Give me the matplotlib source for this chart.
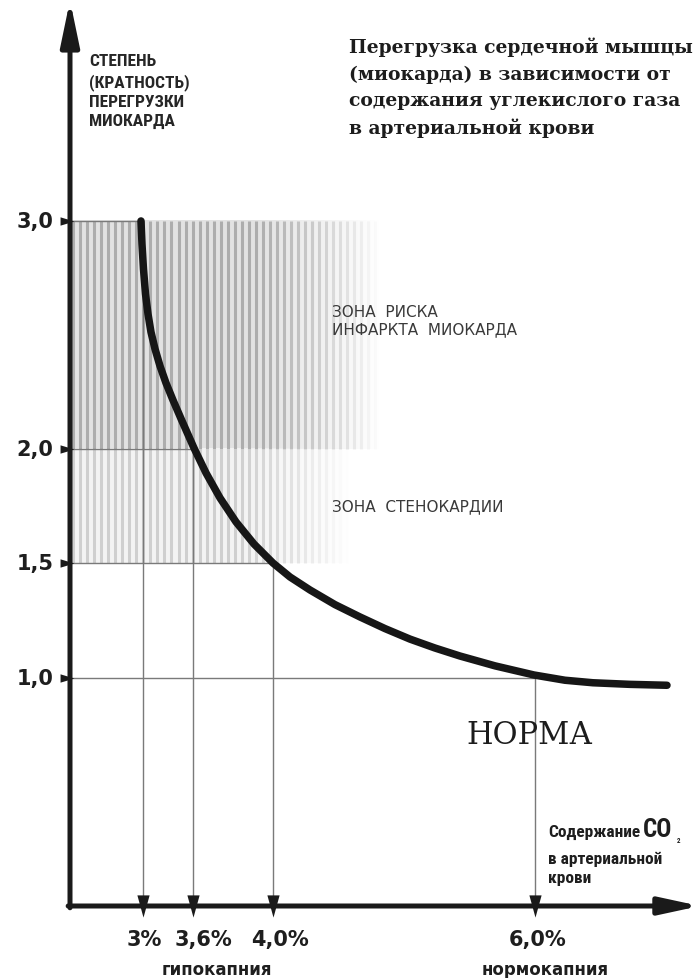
import numpy as np
import matplotlib
matplotlib.use('Agg')
import matplotlib.pyplot as plt

# ---------------- data ----------------
# curve: myocardial overload vs CO2 content (x in relative axis positions)
curve_x = [11.45, 11.61, 11.85, 12.18, 12.58, 13.06, 13.71, 14.52, 15.48, 16.61,
           18.06, 20.00, 21.94, 24.19, 26.77, 29.68, 32.74, 35.48, 38.71, 42.74,
           46.77, 50.81, 54.84, 58.87, 62.90, 68.55, 74.84, 79.84, 84.35, 90.32, 96.29]
curve_y = [2.998, 2.897, 2.788, 2.678, 2.591, 2.512, 2.438, 2.363, 2.289, 2.214,
           2.123, 2.004, 1.895, 1.786, 1.681, 1.584, 1.501, 1.440, 1.383, 1.319,
           1.265, 1.214, 1.168, 1.129, 1.094, 1.051, 1.011, 0.988, 0.977, 0.970, 0.966]
level_y = [3.0, 2.0, 1.5, 1.0]
level_labels = ['3,0', '2,0', '1,5', '1,0']
co2_x = [11.7, 19.9, 32.7, 75.0]
co2_labels = ['3%', '3,6%', '4,0%', '6,0%']
zone_upper = (2.0, 3.0)
zone_lower = (1.5, 2.0)
zone_upper_label = 'ЗОНА  РИСКА\nИНФАРКТА  МИОКАРДА'
zone_lower_label = 'ЗОНА  СТЕНОКАРДИИ'
ylabel_text = 'СТЕПЕНЬ\n(КРАТНОСТЬ)\nПЕРЕГРУЗКИ\nМИОКАРДА'
title_text = ('Перегрузка сердечной мышцы\n(миокарда) в зависимости от\n'
              'содержания углекислого газа\nв артериальной крови')

# ---------------- figure ----------------
W, H, DPI = 695, 979, 100
fig = plt.figure(figsize=(W / DPI, H / DPI), dpi=DPI)
fig.patch.set_facecolor('white')
ox, oy, tx, ty = 70, 907, 690, 12
ax = fig.add_axes([ox / W, (H - oy) / H, (tx - ox) / W, (oy - ty) / H])
ax.set_xlim(0, 100)
ax.set_ylim(0, (oy - ty) / 228.5)
ax.axis('off')

cond = ['Roboto Condensed', 'DejaVu Sans']
heavy = ['DejaVu Sans']
ink = '#1e1e1e'

# ---------------- zones (striped, fading right) ----------------
def stripes(y0, y1, x_full, x_end, stripe_rgb, gap_rgb, z):
    xs = np.arange(0.55, x_end, 1.13)
    alpha = np.clip((x_end - xs) / (x_end - x_full), 0, 1)
    cols = [(*stripe_rgb, a) for a in alpha]
    gx = np.linspace(0, x_end, 300)
    ga = np.clip((x_end - gx) / (x_end - x_full), 0, 1)
    img = np.zeros((1, len(gx), 4))
    img[0, :, :3] = gap_rgb
    img[0, :, 3] = ga
    ax.imshow(img, extent=[0, x_end, y0, y1], aspect='auto', zorder=z,
              interpolation='bilinear')
    ax.vlines(xs, y0, y1, colors=cols, lw=2.2, zorder=z + 0.1)

stripes(*zone_upper, 30, 50, (0.68, 0.68, 0.68), (0.89, 0.89, 0.89), 1)
stripes(*zone_lower, 27, 45, (0.81, 0.81, 0.81), (0.955, 0.955, 0.955), 1)

# ---------------- guide lines ----------------
gcol = '#7a7a7a'
for yv, xv in zip(level_y, co2_x):
    ax.plot([0, xv], [yv, yv], color=gcol, lw=1.0, zorder=3)
    ax.plot([xv, xv], [yv, 0], color=gcol, lw=1.0, zorder=3)

down_tri = [(-0.55, 1), (0.55, 1), (0, -1), (-0.55, 1)]
ax.plot(co2_x, [0] * len(co2_x), ls='none', marker=down_tri, ms=16,
        color='#1a1a1a', mew=0, zorder=7, clip_on=False)

right_tri = [(-1, 0.6), (-1, -0.6), (1, 0), (-1, 0.6)]
ax.plot([-0.5] * len(level_y), level_y, ls='none', marker=right_tri, ms=10,
        color='#1a1a1a', mew=0, zorder=7, clip_on=False)

# ---------------- curve ----------------
ax.plot(curve_x, curve_y, color='#161616', lw=5.4, solid_capstyle='round',
        solid_joinstyle='round', zorder=6)

# ---------------- axes arrows ----------------
akw = dict(lw=3.6, color='#1a1a1a', shrinkA=0, shrinkB=0, mutation_scale=20)
ax.annotate('', xy=(0, 1.012), xytext=(0, -0.002), xycoords='axes fraction',
            arrowprops=dict(arrowstyle='-|>,head_length=1.35,head_width=0.28', **akw),
            annotation_clip=False, zorder=8)
ax.annotate('', xy=(1.016, 0), xytext=(-0.003, 0), xycoords='axes fraction',
            arrowprops=dict(arrowstyle='-|>,head_length=1.2,head_width=0.26', **akw),
            annotation_clip=False, zorder=8)

# ---------------- texts ----------------
for yv, lab in zip(level_y, level_labels):
    ax.text(-2.7, yv, lab, ha='right', va='center', fontsize=15,
            fontweight='bold', family=heavy, color=ink, clip_on=False)

label_dx = [0.3, 1.6, 1.2, 0.4]
for xv, lab, dx in zip(co2_x, co2_labels, label_dx):
    ax.text(xv + dx, -0.145, lab, ha='center', va='center', fontsize=15,
            fontweight='bold', family=heavy, color=ink, clip_on=False)

ax.text(23.7, -0.275, 'гипокапния', ha='center', va='center', fontsize=12,
        fontweight='bold', family=heavy, color=ink, clip_on=False)
ax.text(76.6, -0.275, 'нормокапния', ha='center', va='center', fontsize=12,
        fontweight='bold', family=heavy, color=ink, clip_on=False)

ax.text(3.05, 3.733, ylabel_text, ha='left', va='top', fontsize=12.5,
        fontweight='bold', family=cond, color='#262626', linespacing=1.36)

ax.text(45.0, 3.805, title_text, ha='left', va='top', fontsize=13.5,
        fontweight='bold', family='DejaVu Serif', color='#1c1c1c', linespacing=1.58)

ax.text(42.3, 2.565, zone_upper_label, ha='left', va='center', fontsize=11,
        family='DejaVu Sans', color='#3a3a3a', linespacing=1.18)
ax.text(42.3, 1.75, zone_lower_label, ha='left', va='center', fontsize=11,
        family='DejaVu Sans', color='#3a3a3a')

ax.text(64.0, 0.75, 'НОРМА', ha='left', va='center', fontsize=22,
        family='DejaVu Serif', color='#1c1c1c')

ax.text(77.1, 0.325, 'Содержание', ha='left', va='center', fontsize=12.5,
        fontweight='bold', family=cond, color=ink)
ax.text(92.4, 0.337, 'CO', ha='left', va='center', fontsize=18,
        fontweight='bold', family=cond, color=ink)
ax.text(97.9, 0.287, '2', ha='left', va='center', fontsize=5,
        fontweight='bold', family=cond, color=ink)
ax.text(77.1, 0.21, 'в артериальной', ha='left', va='center', fontsize=12.5,
        fontweight='bold', family=cond, color=ink)
ax.text(77.1, 0.123, 'крови', ha='left', va='center', fontsize=12.5,
        fontweight='bold', family=cond, color=ink)

fig.savefig('out.png', dpi=DPI, facecolor='white')
